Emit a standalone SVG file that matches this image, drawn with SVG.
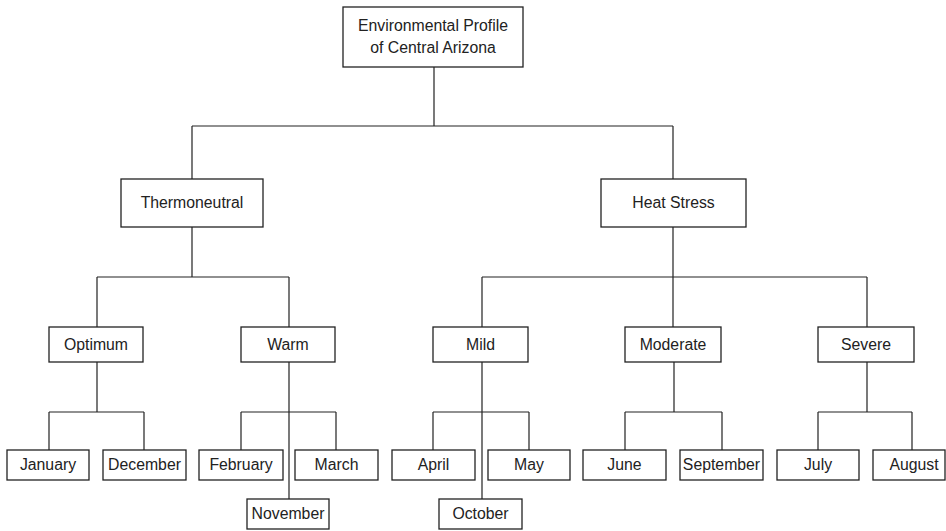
<svg xmlns="http://www.w3.org/2000/svg" width="946" height="531" viewBox="0 0 946 531">
<style>
.box{fill:#fff;stroke:#222;stroke-width:1.3}
.lbl{font-family:"Liberation Sans",Arial,sans-serif;font-size:15.8px;fill:#222;text-anchor:middle}
.con{fill:none;stroke:#222;stroke-width:1.2}
</style>
<rect width="946" height="531" fill="#fff"/>
<g id="connectors" class="con">
<path d="M434 67V126M192 126H673M192 126V179M673 126V179"/>
<path d="M192 227V277M97 277H289M97 277V327M289 277V327"/>
<path d="M673 227V327M482 277H867M482 277V327M867 277V327"/>
<path d="M97 362V412M49 412H144M49 412V450M144 412V450"/>
<path d="M289 362V499M241 412H336M241 412V450M336 412V450"/>
<path d="M482 362V499M433 412H529M433 412V450M529 412V450"/>
<path d="M674 362V412M625 412H722M625 412V450M722 412V450"/>
<path d="M867 362V412M818 412H912M818 412V450M912 412V450"/>
</g>
<g id="root"><rect class="box" x="343" y="7" width="180" height="60"/><text class="lbl" x="433" y="31">Environmental Profile</text><text class="lbl" x="433" y="53">of Central Arizona</text></g>
<g id="thermoneutral"><rect class="box" x="121" y="179" width="142" height="48"/><text class="lbl" x="192" y="208">Thermoneutral</text></g>
<g id="heat-stress"><rect class="box" x="601" y="179" width="145" height="48"/><text class="lbl" x="673.5" y="208">Heat Stress</text></g>
<g id="optimum"><rect class="box" x="49" y="327" width="94" height="35"/><text class="lbl" x="96" y="349.5">Optimum</text></g>
<g id="warm"><rect class="box" x="241" y="327" width="94" height="35"/><text class="lbl" x="288" y="349.5">Warm</text></g>
<g id="mild"><rect class="box" x="433" y="327" width="95" height="35"/><text class="lbl" x="480.5" y="349.5">Mild</text></g>
<g id="moderate"><rect class="box" x="625" y="327" width="96" height="35"/><text class="lbl" x="673" y="349.5">Moderate</text></g>
<g id="severe"><rect class="box" x="818" y="327" width="96" height="35"/><text class="lbl" x="866" y="349.5">Severe</text></g>
<g id="january"><rect class="box" x="7" y="450" width="82" height="30"/><text class="lbl" x="48" y="470">January</text></g>
<g id="december"><rect class="box" x="103" y="450" width="83" height="30"/><text class="lbl" x="144.5" y="470">December</text></g>
<g id="february"><rect class="box" x="199" y="450" width="84" height="30"/><text class="lbl" x="241" y="470">February</text></g>
<g id="march"><rect class="box" x="295" y="450" width="83" height="30"/><text class="lbl" x="336.5" y="470">March</text></g>
<g id="november"><rect class="box" x="247" y="499" width="82" height="30"/><text class="lbl" x="288" y="519">November</text></g>
<g id="april"><rect class="box" x="392" y="450" width="83" height="30"/><text class="lbl" x="433.5" y="470">April</text></g>
<g id="may"><rect class="box" x="488" y="450" width="82" height="30"/><text class="lbl" x="529" y="470">May</text></g>
<g id="october"><rect class="box" x="439" y="499" width="83" height="30"/><text class="lbl" x="480.5" y="519">October</text></g>
<g id="june"><rect class="box" x="583" y="450" width="83" height="30"/><text class="lbl" x="624.5" y="470">June</text></g>
<g id="september"><rect class="box" x="680" y="450" width="83" height="30"/><text class="lbl" x="721.5" y="470">September</text></g>
<g id="july"><rect class="box" x="777" y="450" width="82" height="30"/><text class="lbl" x="818" y="470">July</text></g>
<g id="august"><rect class="box" x="873" y="450" width="72" height="30"/><text class="lbl" x="914" y="470">August</text></g>
</svg>
